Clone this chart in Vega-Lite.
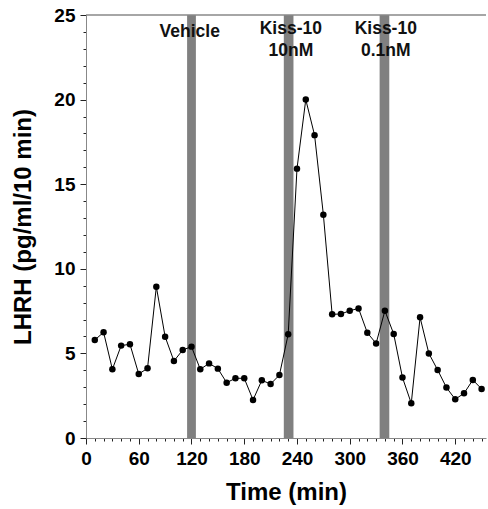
{
  "$schema": "https://vega.github.io/schema/vega-lite/v6.json",
  "autosize": "none",
  "width": 400,
  "height": 423,
  "padding": {"left": 86, "top": 15, "right": 2, "bottom": 71},
  "config": {
    "view": {"stroke": null},
    "font": "Liberation Sans",
    "axis": {"labelFont": "Liberation Sans", "titleFont": "Liberation Sans", "labelFontWeight": "bold", "titleFontWeight": "bold", "labelColor": "#000", "titleColor": "#000", "grid": false, "tickColor": "#222", "tickWidth": 1, "domainColor": "#888"}
  },
  "datasets": {
    "series": [
      {"t": 10, "v": 5.79}, {"t": 20, "v": 6.25}, {"t": 30, "v": 4.06}, {"t": 40, "v": 5.46},
      {"t": 50, "v": 5.54}, {"t": 60, "v": 3.78}, {"t": 70, "v": 4.12}, {"t": 80, "v": 8.94},
      {"t": 90, "v": 5.99}, {"t": 100, "v": 4.55}, {"t": 110, "v": 5.2}, {"t": 120, "v": 5.4},
      {"t": 130, "v": 4.06}, {"t": 140, "v": 4.41}, {"t": 150, "v": 4.1}, {"t": 160, "v": 3.27},
      {"t": 170, "v": 3.53}, {"t": 180, "v": 3.53}, {"t": 190, "v": 2.25}, {"t": 200, "v": 3.41},
      {"t": 210, "v": 3.19}, {"t": 220, "v": 3.72}, {"t": 230, "v": 6.13}, {"t": 240, "v": 15.92},
      {"t": 250, "v": 20.0}, {"t": 260, "v": 17.9}, {"t": 270, "v": 13.2}, {"t": 280, "v": 7.31},
      {"t": 290, "v": 7.33}, {"t": 300, "v": 7.52}, {"t": 310, "v": 7.66}, {"t": 320, "v": 6.22},
      {"t": 330, "v": 5.59}, {"t": 340, "v": 7.52}, {"t": 350, "v": 6.15}, {"t": 360, "v": 3.57},
      {"t": 370, "v": 2.05}, {"t": 380, "v": 7.13}, {"t": 390, "v": 5.0}, {"t": 400, "v": 4.02},
      {"t": 410, "v": 2.98}, {"t": 420, "v": 2.29}, {"t": 430, "v": 2.64}, {"t": 440, "v": 3.43},
      {"t": 450, "v": 2.9}
    ],
    "bands": [
      {"start": 115, "end": 125},
      {"start": 225, "end": 236},
      {"start": 334, "end": 345}
    ],
    "labels": [
      {"label": "Vehicle", "t": 118, "v": 24.0},
      {"label": "Kiss-10", "t": 233, "v": 24.2},
      {"label": "10nM", "t": 233, "v": 22.9},
      {"label": "Kiss-10", "t": 341, "v": 24.2},
      {"label": "0.1nM", "t": 341, "v": 22.9}
    ]
  },
  "resolve": {"axis": {"x": "independent", "y": "independent"}},
  "layer": [
    {
      "data": {"name": "bands"},
      "mark": {"type": "rect", "color": "#808080"},
      "encoding": {
        "x": {"field": "start", "type": "quantitative", "scale": {"domain": [0, 455], "nice": false},
          "axis": {"orient": "bottom", "title": null, "labels": false, "domain": false, "tickSize": 3,
            "values": [0, 10, 20, 30, 40, 50, 60, 70, 80, 90, 100, 110, 120, 130, 140, 150, 160, 170, 180, 190, 200, 210, 220, 230, 240, 250, 260, 270, 280, 290, 300, 310, 320, 330, 340, 350, 360, 370, 380, 390, 400, 410, 420, 430, 440, 450]}},
        "x2": {"field": "end"},
        "y": {"datum": 0, "type": "quantitative", "scale": {"domain": [0, 25], "nice": false},
          "axis": {"orient": "left", "title": null, "labels": false, "domain": false, "tickSize": 3,
            "values": [0, 1, 2, 3, 4, 5, 6, 7, 8, 9, 10, 11, 12, 13, 14, 15, 16, 17, 18, 19, 20, 21, 22, 23, 24, 25]}},
        "y2": {"datum": 25}
      }
    },
    {
      "data": {"values": [{"top": 25}]},
      "mark": {"type": "rule", "color": "#888", "strokeWidth": 1.5},
      "encoding": {"y": {"field": "top", "type": "quantitative", "axis": null}}
    },
    {
      "data": {"name": "labels"},
      "mark": {"type": "text", "font": "Liberation Sans", "fontWeight": "bold", "fontSize": 17.5, "color": "#111", "align": "center", "baseline": "middle"},
      "encoding": {
        "x": {"field": "t", "type": "quantitative", "axis": null},
        "y": {"field": "v", "type": "quantitative", "axis": null},
        "text": {"field": "label"}
      }
    },
    {
      "data": {"name": "series"},
      "mark": {"type": "line", "color": "#000", "strokeWidth": 1},
      "encoding": {
        "x": {"field": "t", "type": "quantitative",
          "axis": {"orient": "bottom", "title": "Time (min)", "values": [0, 60, 120, 180, 240, 300, 360, 420], "labelOverlap": false,
            "tickSize": 6, "labelFontSize": 19, "titleFontSize": 24, "labelPadding": 5, "titlePadding": 12, "labelFlush": false}},
        "y": {"field": "v", "type": "quantitative",
          "axis": {"orient": "left", "title": "LHRH (pg/ml/10 min)", "values": [0, 5, 10, 15, 20, 25], "labelOverlap": false,
            "tickSize": 6, "labelFontSize": 19, "titleFontSize": 24, "labelPadding": 5, "titlePadding": 18}}
      }
    },
    {
      "data": {"name": "series"},
      "mark": {"type": "point", "filled": true, "color": "#000", "opacity": 1, "size": 42},
      "encoding": {
        "x": {"field": "t", "type": "quantitative", "axis": null},
        "y": {"field": "v", "type": "quantitative", "axis": null}
      }
    }
  ]
}
